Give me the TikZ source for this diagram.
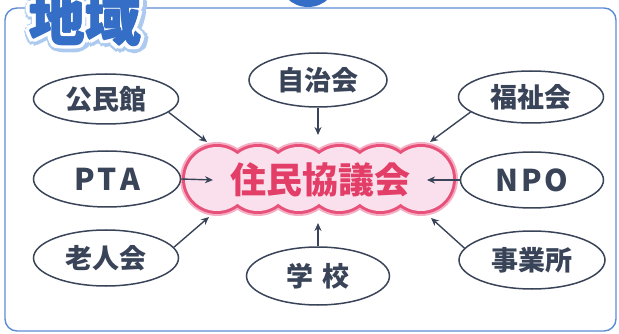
\documentclass[tikz,border=0pt]{standalone}
\usepackage{fontspec}
\newfontfamily\jp{Noto Sans CJK JP}
\usetikzlibrary{arrows.meta,shapes.geometric}
\definecolor{framebl}{RGB}{92,140,212}
\definecolor{titlebl}{RGB}{52,110,198}
\definecolor{titlehalo}{RGB}{172,202,240}
\definecolor{ink}{RGB}{58,68,88}
\definecolor{cloudln}{RGB}{232,82,122}
\definecolor{cloudhalo}{RGB}{246,176,198}
\definecolor{cloudfl}{RGB}{250,224,236}
\definecolor{cloudtx}{RGB}{226,62,104}
\tikzset{
  member/.style={ellipse, draw=ink, line width=1.5pt, fill=white, inner sep=0pt,
    font=\jp\bfseries\fontsize{27}{27}\selectfont, text=ink},
  latin/.style={font=\jp\bfseries\fontsize{30}{30}\selectfont},
  arr/.style={draw=ink, line width=1.4pt, -{Stealth[length=8pt,width=7pt]}},
  frame/.style={draw=framebl, line width=1.4pt, rounded corners=12pt},
  titletext/.style={font=\jp\bfseries\fontsize{56}{56}\selectfont, inner sep=0pt},
}
\begin{document}
\begin{tikzpicture}[x=1pt,y=-1pt]
\useasboundingbox (0,0) rectangle (619,334);
\begin{scope}
\clip (0,0) rectangle (619,334);
% frame
\draw[frame] (5,8) rectangle (616,331);
% blue bulge at top
\fill[titlebl] (308,-23) circle[radius=30pt];
% title with halo
\foreach \a in {0,30,...,330} {
  \node[titletext, text=titlehalo] (th\a) at ([shift={(\a:7pt)}]86.5,20.5) {地域};
}
\foreach \a in {0,30,...,330} {
  \node[titletext, text=white] (tw\a) at ([shift={(\a:4.5pt)}]85,19) {地域};
}
\foreach \a in {0,90,180,270} {
  \node[titletext, text=titlebl] (tb\a) at ([shift={(\a:0.8pt)}]85,19) {地域};
}
\node[titletext, text=titlebl] (title) at (85,19) {地域};
\end{scope}
% cloud
\foreach \i in {0,...,5} {
  \fill[cloudhalo] (217+40.8*\i,179) circle[radius=37pt];
}
\foreach \i in {0,...,5} {
  \fill[cloudln] (217+40.8*\i,179) circle[radius=35pt];
}
\foreach \i in {0,...,5} {
  \fill[cloudfl] (217+40.8*\i,179) circle[radius=32pt];
}
\node[font=\jp\bfseries\fontsize{36}{36}\selectfont, text=cloudtx, minimum width=272pt, minimum height=68pt] (cloud) at (320,180) {住民協議会};
% members
\node[member, minimum width=145pt, minimum height=50pt] (kom) at (106,99) {公民館};
\node[member, minimum width=138pt, minimum height=54pt] (jichi) at (318,80) {自治会};
\node[member, minimum width=145pt, minimum height=52pt] (fuku) at (531,97) {福祉会};
\node[member, latin, minimum width=147pt, minimum height=56pt] (pta) at (107,179) {P\hspace{3pt}T\hspace{3pt}A};
\node[member, latin, minimum width=143pt, minimum height=56pt] (npo) at (532,180) {N\hspace{3pt}P\hspace{3pt}O};
\node[member, minimum width=145pt, minimum height=56pt] (rojin) at (106,258) {老人会};
\node[member, minimum width=143pt, minimum height=58pt] (gakko) at (318,276) {学\hspace{0.3em}校};
\node[member, minimum width=146pt, minimum height=58pt] (jigyo) at (532,260) {事業所};
% arrow tips
\coordinate (t1) at (207,142);
\coordinate (t2) at (318,135);
\coordinate (t3) at (430,142);
\coordinate (t4) at (213,180);
\coordinate (t5) at (427,180);
\coordinate (t6) at (209,217);
\coordinate (t7) at (318,223);
\coordinate (t8) at (431,218);
\draw[arr] (kom.-12) -- (t1);
\draw[arr] (jichi.south) -- (t2);
\draw[arr] (fuku.-166) -- (t3);
\draw[arr] (pta.east) -- (t4);
\draw[arr] (npo.west) -- (t5);
\draw[arr] (rojin.9) -- (t6);
\draw[arr] (gakko.north) -- (t7);
\draw[arr] (jigyo.170) -- (t8);
\end{tikzpicture}
\end{document}
